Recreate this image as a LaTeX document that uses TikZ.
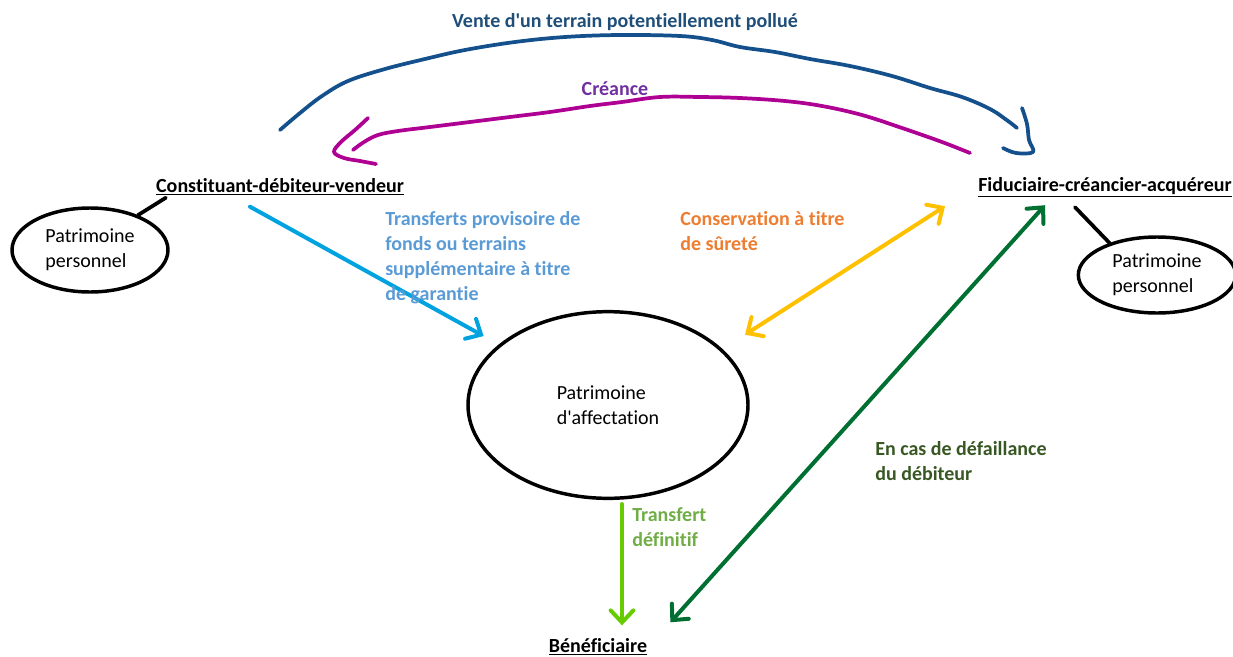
\documentclass[tikz,border=0pt]{standalone}
\usepackage{fontspec}
\setmainfont{Carlito}[Ligatures=NoCommon]
\usetikzlibrary{arrows.meta,shapes.geometric,calc}

\definecolor{venteBleu}{RGB}{20,80,140}
\definecolor{venteTexte}{RGB}{31,78,121}
\definecolor{creanceMagenta}{RGB}{174,0,146}
\definecolor{creanceTexte}{RGB}{112,48,160}
\definecolor{transfertBleu}{RGB}{0,163,224}
\definecolor{transfertTexte}{RGB}{91,155,213}
\definecolor{conservJaune}{RGB}{255,192,0}
\definecolor{conservTexte}{RGB}{237,125,49}
\definecolor{defaillVert}{RGB}{0,112,50}
\definecolor{defaillTexte}{RGB}{56,87,35}
\definecolor{definitifVert}{RGB}{102,204,0}
\definecolor{definitifTexte}{RGB}{112,173,71}

\tikzset{
  acteur/.style={font=\fontsize{15}{18.75}\selectfont\bfseries, inner sep=0pt},
  etiquette/.style={font=\fontsize{15}{18.75}\selectfont\bfseries, inner sep=0pt, align=left, anchor=north west},
  patrimoine/.style={ellipse, draw, line width=2.6pt, align=left, inner sep=0pt, font=\fontsize{15}{18.75}\selectfont},
  pointe/.tip={Straight Barb[length=9pt,width=17pt,line cap=round]},
  fleche/.style={line width=3pt, line cap=round},
  trait/.style={line width=2.8pt, line cap=round, line join=round},
}

\begin{document}
\begin{tikzpicture}[x=0.75pt,y=0.75pt,yscale=-1]
\useasboundingbox (0,0) rectangle (1233,657);

% acteurs
\node[acteur] (constituant) at (280,187) {\underline{Constituant-débiteur-vendeur}};
\node[acteur] (fiduciaire) at (1105,187) {\underline{Fiduciaire-créancier-acquéreur}};
\node[acteur] (beneficiaire) at (598,647) {\underline{Bénéficiaire}};

% patrimoines
\node[patrimoine, minimum width=117pt, minimum height=63pt] (persoG) at (90,250) {Patrimoine\\personnel};
\node[patrimoine, minimum width=118pt, minimum height=57pt] (persoD) at (1157,275) {Patrimoine\\personnel};
\node[patrimoine, minimum width=210pt, minimum height=140pt] (affectation) at (608,405) {Patrimoine\\d\textquotesingle affectation};

\draw[trait] ($(constituant.south west)+(10,2)$) -- (persoG.36);
\draw[trait] ($(fiduciaire.south)+(-30,10)$) -- (persoD.146);

% vente / creance
\node[acteur, text=venteTexte] (vente) at (625,22) {Vente d\textquotesingle un terrain potentiellement pollué};
\node[acteur, text=creanceTexte] (creance) at (615,89) {Créance};

\draw[trait, venteBleu] plot[smooth, tension=0.6] coordinates {(280,130) (300,113) (322,96) (348,81) (385,69) (425,59) (465,50) (515,42) (565,37) (620,35) (680,36) (712,40) (740,47) (775,52) (810,59) (850,66) (892,76) (930,88) (962,97) (990,109) (1008,121) (1017,128)};
\draw[trait, venteBleu] plot[smooth, tension=0.6] coordinates {(1022,108) (1027,124) (1029,140) (1033,152) (1016,153) (1003,148)};

\draw[trait, creanceMagenta] plot[smooth, tension=0.6] coordinates {(970,153) (942,142) (902,128) (862,115) (822,106) (785,101) (740,98) (700,97) (660,97) (622,102) (590,106) (550,112) (510,117) (470,122) (430,127) (398,131) (378,135) (364,142) (353,150)};
\draw[trait, creanceMagenta] plot[smooth, tension=0.6] coordinates {(368,118) (355,130) (341,142) (334,152) (344,158) (360,161) (376,164)};

% transferts
\draw[fleche, -pointe, transfertBleu, shorten >=13pt] ($(constituant.south)+(-30,11)$) -- (affectation.151);
\node[etiquette, text=transfertTexte] (provisoire) at (385,211) {Transferts provisoire de\\fonds ou terrains\\supplémentaire à titre\\de garantie};

\draw[fleche, pointe-pointe, conservJaune, shorten <=20pt] (affectation.26) -- ($(fiduciaire.south west)+(-33,9)$);
\node[etiquette, text=conservTexte] (surete) at (680,211) {Conservation à titre\\de sûreté};

\draw[fleche, pointe-pointe, defaillVert] ($(fiduciaire.south)+(-60,8)$) -- ($(beneficiaire.north east)+(23,-16)$);
\node[etiquette, text=defaillTexte] (defaillance) at (875,441) {En cas de défaillance\\du débiteur};

\draw[fleche, -pointe, definitifVert] ($(affectation.south)+(14,4)$) -- ($(beneficiaire.north)+(24,-13)$);
\node[etiquette, text=definitifTexte] (definitif) at (632,507) {Transfert\\définitif};

\end{tikzpicture}
\end{document}
